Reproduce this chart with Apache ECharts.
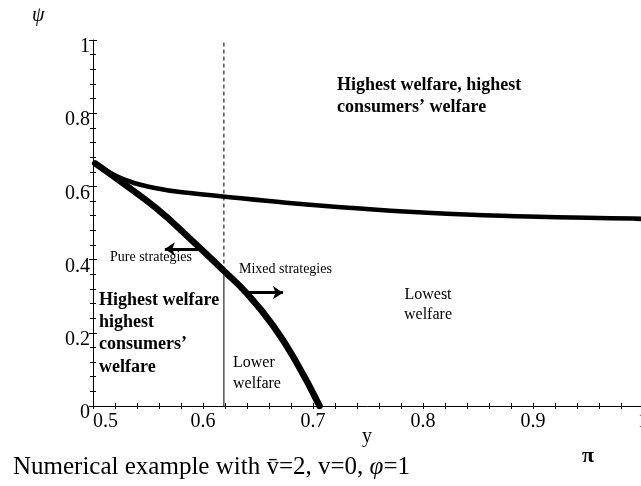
<!DOCTYPE html>
<html>
<head>
<meta charset="utf-8">
<script src="https://cdn.jsdelivr.net/npm/echarts@6/dist/echarts.min.js"></script>
<style>html,body{margin:0;padding:0;background:#fff;}#c{width:641px;height:486px;}</style>
</head>
<body>
<div id="c"></div>
<script>
// Data
const xTicks = [0.5, 0.6, 0.7, 0.8, 0.9, 1];
const yTicks = [0, 0.2, 0.4, 0.6, 0.8, 1];
const upperX = [0.502, 0.5275, 0.5576, 0.588, 0.62, 0.66, 0.714, 0.804, 0.895, 0.991, 1.0];
const upperY = [0.663, 0.620, 0.595, 0.582, 0.572, 0.560, 0.546, 0.528, 0.518, 0.512, 0.511];
const boundX = [0.502, 0.5275, 0.5576, 0.5879, 0.6197, 0.6394, 0.6636, 0.6848, 0.706];
const boundY = [0.663, 0.608, 0.540, 0.458, 0.367, 0.309, 0.220, 0.120, 0.0];
const cutX = 0.619;
const cutSolidTop = 0.37;
const cutTop = 1.0;
const pureArrow = [[0.597, 0.429], [0.5653, 0.429]];
const mixedArrow = [[0.6394, 0.3096], [0.6727, 0.3096]];

const serif = 'Liberation Serif';
const upper = upperX.map((x, i) => [x, upperY[i]]);
const bound = boundX.map((x, i) => [x, boundY[i]]);

const axisBase = {
  type: 'value', min: 0, max: 1, interval: 0.2,
  splitLine: { show: false }
};

const chart = echarts.init(document.getElementById('c'), null, { renderer: 'canvas' });
chart.setOption({
  backgroundColor: '#fff',
  animation: false,
  grid: { left: 93, top: 40, width: 550, height: 366, containLabel: false, outerBoundsMode: 'none' },
  xAxis: [
    {
      type: 'value', min: 0.5, max: 1, interval: 0.1, position: 'bottom',
      axisLine: { show: true, onZero: false, lineStyle: { color: '#000', width: 1 } },
      axisTick: { show: true, inside: false, length: 3, lineStyle: { color: '#000' } },
      minorTick: { show: true, splitNumber: 5, length: 3, lineStyle: { color: '#000' } },
      splitLine: { show: false }, minorSplitLine: { show: false },
      axisLabel: {
        show: true, color: '#000', fontFamily: serif, fontSize: 20, margin: 6,
        alignMinLabel: 'left',
        formatter: v => xTicks.includes(Math.round(v * 10) / 10) ? String(Math.round(v * 10) / 10) : ''
      }
    },
    {
      type: 'value', min: 0.5, max: 1, interval: 0.1, position: 'bottom',
      axisLine: { show: false, onZero: false },
      axisTick: { show: true, inside: true, length: 3, lineStyle: { color: '#000' } },
      minorTick: { show: true, splitNumber: 5, length: 3, lineStyle: { color: '#000' } },
      splitLine: { show: false }, axisLabel: { show: false }
    }
  ],
  yAxis: [
    Object.assign({}, axisBase, {
      position: 'left',
      axisLine: { show: true, onZero: false, lineStyle: { color: '#000', width: 1 } },
      axisTick: { show: true, inside: false, length: 4, lineStyle: { color: '#000' } },
      minorTick: { show: true, splitNumber: 5, length: 3, lineStyle: { color: '#000' } },
      minorSplitLine: { show: false },
      axisLabel: {
        show: true, color: '#000', margin: 3,
        formatter: v => {
          const r = Math.round(v * 10) / 10;
          return yTicks.includes(r) ? '{a|' + String(r) + '}' : '';
        },
        rich: { a: { fontFamily: serif, fontSize: 20, color: '#000', padding: [14, 0, 0, 0] } }
      }
    }),
    Object.assign({}, axisBase, {
      position: 'left',
      axisLine: { show: false, onZero: false },
      axisTick: { show: true, inside: true, length: 4, lineStyle: { color: '#000' } },
      minorTick: { show: true, splitNumber: 5, length: 3, lineStyle: { color: '#000' } },
      axisLabel: { show: false }
    })
  ],
  series: [
    {
      type: 'line', xAxisIndex: 0, yAxisIndex: 0, data: upper, smooth: 0.5,
      showSymbol: false, symbol: 'none',
      lineStyle: { color: '#000', width: 4.5, cap: 'round' }, z: 3
    },
    {
      type: 'line', xAxisIndex: 0, yAxisIndex: 0, data: bound, smooth: 0.5,
      showSymbol: false, symbol: 'none',
      lineStyle: { color: '#000', width: 6.5, cap: 'round' }, z: 4
    },
    {
      type: 'line', xAxisIndex: 0, yAxisIndex: 0,
      data: [[cutX, 0], [cutX, cutSolidTop]],
      showSymbol: false, symbol: 'none',
      lineStyle: { color: '#000', width: 1 }, z: 2
    },
    {
      type: 'line', xAxisIndex: 0, yAxisIndex: 0,
      data: [[cutX, cutSolidTop], [cutX, cutTop]],
      showSymbol: false, symbol: 'none',
      lineStyle: { color: '#000', width: 1, type: [4, 3] }, z: 2
    },
    {
      type: 'lines', coordinateSystem: 'cartesian2d', xAxisIndex: 0, yAxisIndex: 0,
      symbol: ['none', 'arrow'], symbolSize: 10,
      lineStyle: { color: '#000', width: 3, opacity: 1, curveness: 0 },
      data: [{ coords: pureArrow }, { coords: mixedArrow }], z: 5
    }
  ],
  graphic: [
    { type: 'text', left: 32, top: 6, style: { text: 'ψ', font: 'italic 20px "Liberation Serif"', fill: '#000' } },
    { type: 'text', left: 337, top: 74, style: { text: 'Highest welfare, highest\nconsumers\u2019 welfare', font: 'bold 18px "Liberation Serif"', lineHeight: 22, fill: '#000' } },
    { type: 'text', left: 99, top: 289, style: { text: 'Highest welfare\nhighest\nconsumers\u2019\nwelfare', font: 'bold 18px "Liberation Serif"', lineHeight: 22.3, fill: '#000' } },
    { type: 'text', left: 110, top: 250, style: { text: 'Pure strategies', font: '14px "Liberation Serif"', fill: '#000' } },
    { type: 'text', left: 239, top: 262, style: { text: 'Mixed strategies', font: '14px "Liberation Serif"', fill: '#000' } },
    { type: 'text', left: 233, top: 352, style: { text: 'Lower\nwelfare', font: '16px "Liberation Serif"', lineHeight: 21, fill: '#000' } },
    { type: 'text', x: 428, y: 285, style: { text: 'Lowest\nwelfare', font: '16px "Liberation Serif"', lineHeight: 20, fill: '#000', align: 'center' } },
    { type: 'text', x: 367, y: 437, style: { text: 'y', font: '20px "Liberation Serif"', fill: '#000', align: 'center', verticalAlign: 'middle' } },
    { type: 'text', x: 588, y: 456, style: { text: 'π', font: 'bold 22px "Liberation Serif"', fill: '#000', align: 'center', verticalAlign: 'middle' } },
    { type: 'text', left: 13, top: 455, style: {
        text: '{a|Numerical example with v\u0304=2, v=0, }{b|φ}{a|=1}',
        rich: {
          a: { fontFamily: serif, fontSize: 25, fill: '#000', color: '#000' },
          b: { fontFamily: serif, fontSize: 25, fontStyle: 'italic', fill: '#000', color: '#000' }
        }
      } }
  ]
});
</script>
</body>
</html>
